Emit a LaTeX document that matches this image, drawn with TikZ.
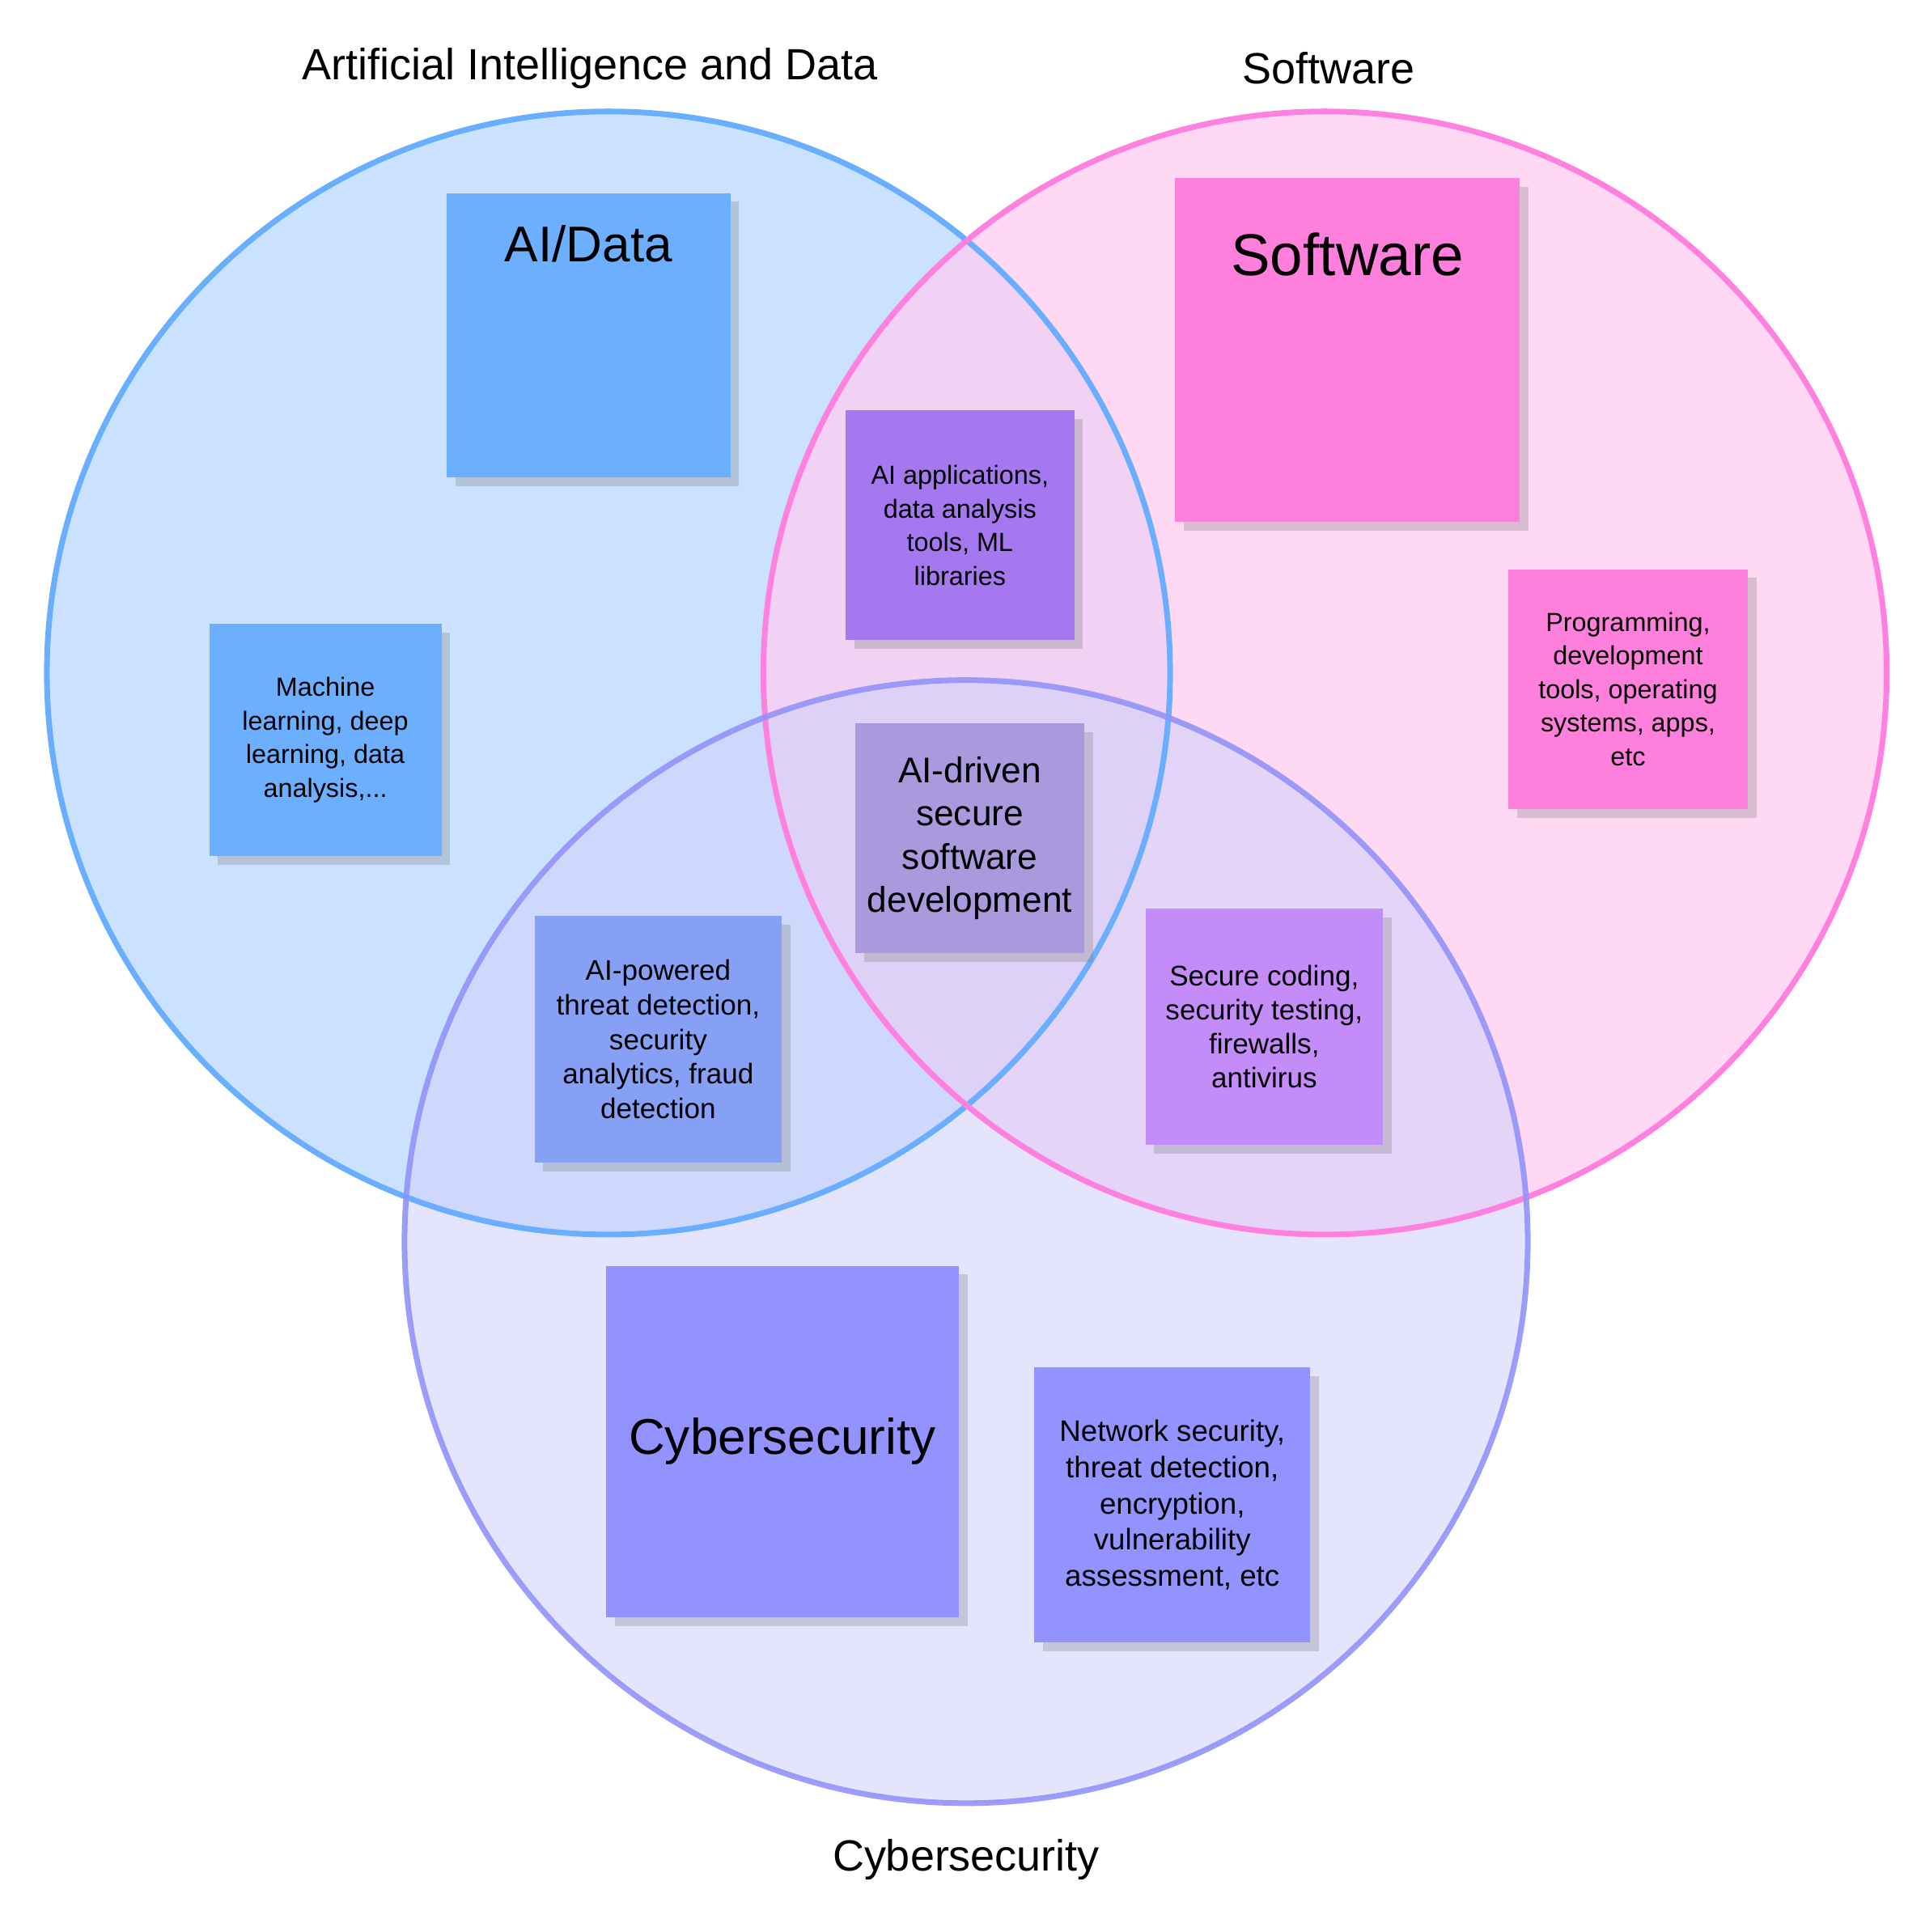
\documentclass[tikz,border=0pt]{standalone}
\usepackage{fontspec}
\setmainfont{Liberation Sans}
\usetikzlibrary{shadows}
\definecolor{aiFill}{HTML}{B9D7FF}
\definecolor{aiLine}{HTML}{6AAEFF}
\definecolor{swFill}{HTML}{FFCCF1}
\definecolor{swLine}{HTML}{FF80DF}
\definecolor{csFill}{HTML}{D2D2FC}
\definecolor{csLine}{HTML}{9393FA}
\definecolor{aiNote}{HTML}{6DAFFF}
\definecolor{swNote}{HTML}{FF80DC}
\definecolor{csNote}{HTML}{9393FF}
\definecolor{asNote}{HTML}{A678F0}
\definecolor{allNote}{HTML}{A89ADC}
\definecolor{acNote}{HTML}{86A0F6}
\definecolor{scNote}{HTML}{C48CF8}
\tikzset{
  note/.style={fill=#1, align=center, inner sep=0pt,
    drop shadow={shadow xshift=2pt, shadow yshift=-2pt, opacity=.3}},
  setcircle/.style={draw=#1, line width=1.3pt},
}
\begin{document}
\begin{tikzpicture}[x=0.01cm, y=-0.01cm]
\useasboundingbox (0,0) rectangle (1550,1556);
\fill[white] (0,0) rectangle (1550,1556);
% the three sets
\fill[aiFill, fill opacity=.75] (490,542) circle (4.52cm);
\fill[swFill, fill opacity=.75] (1067,542) circle (4.52cm);
\fill[csFill, fill opacity=.6] (778,1000) circle (4.52cm);
\draw[setcircle=aiLine] (490,542) circle (4.52cm);
\draw[setcircle=swLine] (1067,542) circle (4.52cm);
\draw[setcircle=csLine, opacity=.9] (778,1000) circle (4.52cm);
% titles
\node[font=\fontsize{10}{12}\selectfont] (tAI) at (475,55) {Artificial Intelligence and Data};
\node[font=\fontsize{10}{12}\selectfont] (tSW) at (1070,55) {Software};
\node[font=\fontsize{10}{12}\selectfont] (tCS) at (778,1498) {Cybersecurity};
% sticky notes
\node[note=aiNote, minimum width=2.28cm, minimum height=2.29cm, font=\fontsize{11.5}{14}\selectfont] (aidata) at (474,270) {AI/Data\\[28pt]};
\node[note=swNote, minimum width=2.77cm, minimum height=2.77cm, font=\fontsize{13.5}{16}\selectfont] (software) at (1085,282) {Software\\[28pt]};
\node[note=csNote, minimum width=2.84cm, minimum height=2.83cm, font=\fontsize{11.5}{14}\selectfont] (cyber) at (630,1161) {Cybersecurity};
\node[note=aiNote, minimum width=1.87cm, minimum height=1.87cm, font=\fontsize{6}{7.7}\selectfont] (ml) at (262,596) {Machine\\learning, deep\\learning, data\\analysis,...};
\node[note=swNote, minimum width=1.93cm, minimum height=1.93cm, font=\fontsize{6}{7.7}\selectfont] (prog) at (1311,555) {Programming,\\development\\tools, operating\\systems, apps,\\etc};
\node[note=asNote, minimum width=1.84cm, minimum height=1.85cm, font=\fontsize{6}{7.7}\selectfont] (aiapp) at (773,423) {AI applications,\\data analysis\\tools, ML\\libraries};
\node[note=allNote, minimum width=1.84cm, minimum height=1.85cm, font=\fontsize{8.2}{9.9}\selectfont] (center) at (781,675) {AI-driven\\secure\\software\\development};
\node[note=acNote, minimum width=1.99cm, minimum height=1.99cm, font=\fontsize{6.5}{7.9}\selectfont] (aipow) at (530,837) {AI-powered\\threat detection,\\security\\analytics, fraud\\detection};
\node[note=scNote, minimum width=1.91cm, minimum height=1.90cm, font=\fontsize{6.5}{7.8}\selectfont] (secure) at (1018,827) {Secure coding,\\security testing,\\firewalls,\\antivirus};
\node[note=csNote, minimum width=2.22cm, minimum height=2.21cm, font=\fontsize{6.8}{8.3}\selectfont] (network) at (944,1212) {Network security,\\threat detection,\\encryption,\\vulnerability\\assessment, etc};
\end{tikzpicture}
\end{document}
